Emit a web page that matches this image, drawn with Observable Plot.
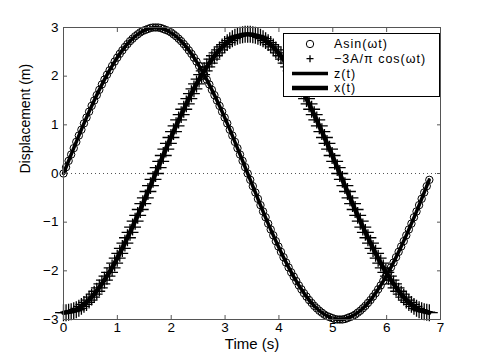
<!DOCTYPE html>
<html><head><meta charset="utf-8">
<script src="https://cdn.jsdelivr.net/npm/d3@7"></script>
<script src="https://cdn.jsdelivr.net/npm/@observablehq/plot@0.6"></script>
<style>
body{margin:0;background:#fff;}
#wrap{position:relative;width:485px;height:360px;}
#legend{position:absolute;left:283px;top:33px;}
</style></head><body><div id="wrap"></div>
<script>
// sample step of the marker series (s)
const dt = 0.0475;
// Asin(wt) markers (circles)
const sinVals = [0.00,0.13,0.26,0.39,0.52,0.65,0.78,0.90,1.03,1.15,1.27,1.39,1.50,1.61,1.72,1.83,1.93,2.03,2.12,2.21,2.30,2.38,2.46,2.53,2.60,2.66,2.72,2.77,2.82,2.86,2.90,2.93,2.95,2.97,2.99,3.00,3.00,
3.00,2.99,2.97,2.95,2.93,2.90,2.86,2.82,2.77,2.72,2.66,2.60,2.53,2.46,2.38,2.30,2.21,2.12,2.03,1.93,1.83,1.72,1.61,1.50,1.39,1.27,1.15,1.03,0.90,0.78,0.65,0.52,0.39,0.26,0.13,0.00,
-0.13,-0.26,-0.39,-0.52,-0.65,-0.78,-0.90,-1.03,-1.15,-1.27,-1.39,-1.50,-1.61,-1.72,-1.83,-1.93,-2.03,-2.12,-2.21,-2.30,-2.38,-2.46,-2.53,-2.60,-2.66,-2.72,-2.77,-2.82,-2.86,-2.90,-2.93,-2.95,-2.97,-2.99,-3.00,-3.00,
-3.00,-2.99,-2.97,-2.95,-2.93,-2.90,-2.86,-2.82,-2.77,-2.72,-2.66,-2.60,-2.53,-2.46,-2.38,-2.30,-2.21,-2.12,-2.03,-1.93,-1.83,-1.72,-1.61,-1.50,-1.39,-1.27,-1.15,-1.03,-0.90,-0.78,-0.65,-0.52,-0.39,-0.26,-0.13];
// -3A/pi cos(wt) markers (plus)
const cosVals = [-2.86,-2.86,-2.85,-2.84,-2.82,-2.80,-2.77,-2.73,-2.69,-2.65,-2.60,-2.54,-2.48,-2.42,-2.35,-2.27,-2.19,-2.11,-2.03,-1.94,-1.84,-1.74,-1.64,-1.54,-1.43,-1.32,-1.21,-1.10,-0.98,-0.86,-0.74,-0.62,-0.50,-0.37,-0.25,-0.12,0.00,
0.12,0.25,0.37,0.50,0.62,0.74,0.86,0.98,1.10,1.21,1.32,1.43,1.54,1.64,1.74,1.84,1.94,2.03,2.11,2.19,2.27,2.35,2.42,2.48,2.54,2.60,2.65,2.69,2.73,2.77,2.80,2.82,2.84,2.85,2.86,2.86,
2.86,2.85,2.84,2.82,2.80,2.77,2.73,2.69,2.65,2.60,2.54,2.48,2.42,2.35,2.27,2.19,2.11,2.03,1.94,1.84,1.74,1.64,1.54,1.43,1.32,1.21,1.10,0.98,0.86,0.74,0.62,0.50,0.37,0.25,0.12,0.00,
-0.12,-0.25,-0.37,-0.50,-0.62,-0.74,-0.86,-0.98,-1.10,-1.21,-1.32,-1.43,-1.54,-1.64,-1.74,-1.84,-1.94,-2.03,-2.11,-2.19,-2.27,-2.35,-2.42,-2.48,-2.54,-2.60,-2.65,-2.69,-2.73,-2.77,-2.80,-2.82,-2.84,-2.85,-2.86];
// solid lines z(t), x(t)
const lineT = [0,0.19,0.38,0.57,0.76,0.95,1.14,1.33,1.52,1.71,1.90,2.09,2.28,2.47,2.66,2.85,3.04,3.23,3.42,3.61,3.80,3.99,4.18,4.37,4.56,4.75,4.94,5.13,5.32,5.51,5.70,5.89,6.08,6.27,6.46,6.65,6.79];
const zVals = [0,0.52,1.03,1.50,1.93,2.30,2.60,2.82,2.95,3.00,2.95,2.82,2.60,2.30,1.93,1.50,1.03,0.52,0,-0.52,-1.03,-1.50,-1.93,-2.30,-2.60,-2.82,-2.95,-3.00,-2.95,-2.82,-2.60,-2.30,-1.93,-1.50,-1.03,-0.52,-0.13];
const xVals = [-2.86,-2.82,-2.69,-2.48,-2.19,-1.84,-1.43,-0.98,-0.50,0,0.50,0.98,1.43,1.84,2.19,2.48,2.69,2.82,2.86,2.82,2.69,2.48,2.19,1.84,1.43,0.98,0.50,0,-0.50,-0.98,-1.43,-1.84,-2.19,-2.48,-2.69,-2.82,-2.86];
const xTicks = [0,1,2,3,4,5,6,7];
const yTicks = [-3,-2,-1,0,1,2,3];
const xLabel = "Time (s)";
const yLabel = "Displacement (m)";
const legendLabels = ["Asin(\u03c9t)", "\u22123A/\u03c0 cos(\u03c9t)", "z(t)", "x(t)"];

const markers = sinVals.map((v, i) => ({t: i * dt, s: v, c: cosVals[i]}));
const lines = lineT.map((t, i) => ({t, z: zVals[i], x: xVals[i]}));

const font = "'Liberation Sans', Arial, Helvetica, sans-serif";
const axisColor = "#555";
const fmt = d3.format("d");
const plot = Plot.plot({
  width: 485, height: 360,
  marginLeft: 63, marginRight: 45, marginTop: 27, marginBottom: 41,
  style: {fontFamily: font, fontSize: "13px", color: "#000", background: "#fff"},
  x: {domain: [0, 7], ticks: xTicks, label: null},
  y: {domain: [-3, 3], ticks: yTicks, label: null},
  marks: [
    Plot.ruleY([0], {stroke: "#555", strokeDasharray: "1,3"}),
    Plot.dot(markers, {x: "t", y: "s", r: 3.7, symbol: "circle", stroke: "#000", strokeWidth: 1, fill: "none"}),
    Plot.dot(markers, {x: "t", y: "c", r: 5.5, symbol: "plus", stroke: "#000", strokeWidth: 1.3}),
    Plot.line(lines, {x: "t", y: "z", curve: "natural", stroke: "#000", strokeWidth: 3.5}),
    Plot.line(lines, {x: "t", y: "x", curve: "natural", stroke: "#000", strokeWidth: 4.5}),
    Plot.frame({stroke: axisColor}),
    Plot.axisX({anchor: "bottom", ticks: xTicks, tickFormat: fmt, tickSize: 0, tickPadding: 3, label: null, fontSize: 13.5}),
    Plot.axisY({anchor: "left", ticks: yTicks, tickFormat: fmt, tickSize: 0, tickPadding: 5, label: null, fontSize: 13.5}),
    Plot.axisX({anchor: "bottom", ticks: xTicks, tickSize: -4, fill: "none", label: null, stroke: axisColor}),
    Plot.axisX({anchor: "top", ticks: xTicks, tickSize: -4, fill: "none", label: null, stroke: axisColor}),
    Plot.axisY({anchor: "left", ticks: yTicks, tickSize: -4, fill: "none", label: null, stroke: axisColor}),
    Plot.axisY({anchor: "right", ticks: yTicks, tickSize: -4, fill: "none", label: null, stroke: axisColor}),
    Plot.text([xLabel], {frameAnchor: "bottom", dy: 29, fontSize: 15, ariaLabel: "xlabel", fill: "#000"}),
    Plot.text([yLabel], {frameAnchor: "left", rotate: -90, dx: -38, fontSize: 14, ariaLabel: "ylabel", fill: "#000"})
  ]
});
d3.select(plot).selectAll("g[aria-label='xlabel'] text").style("letter-spacing", "1.6px");
d3.select(plot).selectAll("g[aria-label='ylabel'] text").style("letter-spacing", "1.8px");
document.getElementById("wrap").appendChild(plot);

// legend
const lg = d3.select("#wrap").append("svg").attr("id", "legend")
  .attr("width", 158).attr("height", 65)
  .style("font-family", font).style("font-size", "12.5px");
lg.append("rect").attr("x", 0.5).attr("y", 0.5).attr("width", 156).attr("height", 63)
  .attr("fill", "#fff").attr("stroke", "#000");
const rowY = (i) => 11 + i * 14.7;
const syms = [
  g => g.append("circle").attr("r", 3.7).attr("fill", "none").attr("stroke", "#000").attr("stroke-width", 1),
  g => g.append("path").attr("d", "M-3.5,0H3.5M0,-3.5V3.5").attr("stroke", "#000").attr("stroke-width", 1.3),
  g => g.append("line").attr("x1", -18).attr("x2", 18).attr("stroke", "#000").attr("stroke-width", 3.5),
  g => g.append("line").attr("x1", -18).attr("x2", 18).attr("stroke", "#000").attr("stroke-width", 4.5)
];
legendLabels.forEach((lab, i) => {
  const g = lg.append("g").attr("transform", `translate(27,${rowY(i)})`);
  syms[i](g);
  lg.append("text").attr("x", 51).attr("y", rowY(i)).attr("dy", "0.35em")
    .style("letter-spacing", "1px").attr("fill", "#000").text(lab);
});
</script></body></html>
